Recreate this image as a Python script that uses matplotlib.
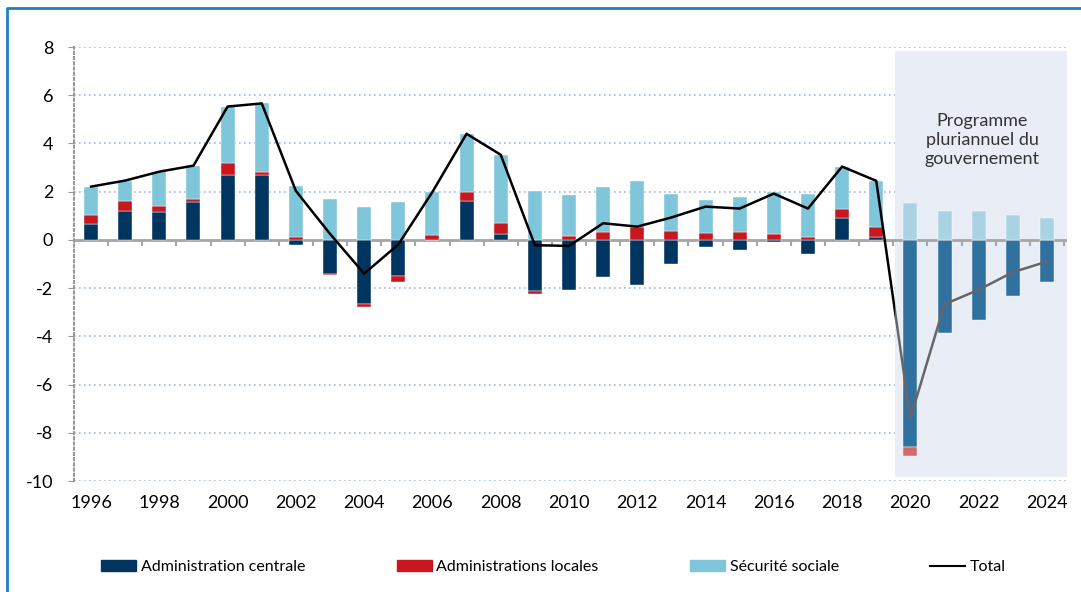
import numpy as np
import matplotlib
matplotlib.use("Agg")
import matplotlib.pyplot as plt
from matplotlib.patches import Rectangle, Patch
from matplotlib.lines import Line2D

plt.rcParams['font.family'] = ['Lato', 'DejaVu Sans']
plt.rcParams['axes.unicode_minus'] = False

years = np.arange(1996, 2025)
central = [0.65, 1.20, 1.17, 1.56, 2.70, 2.70, -0.22, -1.40, -2.67, -1.48,
           0.00, 1.62, 0.25, -2.14, -2.09, -1.54, -1.87, -1.02, -0.29, -0.44,
           -0.07, -0.59, 0.91, 0.10, -8.60, -3.87, -3.33, -2.34, -1.76]
local = [0.40, 0.43, 0.25, 0.14, 0.47, 0.13, 0.12, -0.04, -0.10, -0.27,
         0.21, 0.37, 0.44, -0.09, 0.17, 0.32, 0.55, 0.35, 0.28, 0.32,
         0.25, 0.12, 0.36, 0.44, -0.35, 0.00, 0.00, 0.00, 0.00]
social = [1.16, 0.83, 1.41, 1.38, 2.36, 2.83, 2.13, 1.70, 1.37, 1.56,
          1.78, 2.41, 2.84, 2.03, 1.68, 1.89, 1.88, 1.57, 1.38, 1.45,
          1.74, 1.80, 1.77, 1.91, 1.52, 1.19, 1.19, 1.05, 0.90]
total = [2.21, 2.46, 2.83, 3.08, 5.53, 5.66, 2.03, 0.25, -1.40, -0.19,
         1.99, 4.40, 3.53, -0.22, -0.25, 0.69, 0.55, 0.93, 1.38, 1.30,
         1.92, 1.30, 3.04, 2.45, -7.40, -2.67, -2.07, -1.34, -0.90]
first_forecast = 2020
labels = ['Administration centrale', 'Administrations locales', 'Sécurité sociale', 'Total']

hist_colors = ['#003560', '#c8171f', '#80c6da']
proj_colors = ['#3171a0', '#d46b6b', '#a9d3e3']

fig = plt.figure(figsize=(10.81, 5.92), dpi=100)
ax = fig.add_axes([74/1081, 111/592, 993.4/1081, 434/592])

forecast = years >= first_forecast
pos_base = np.zeros(len(years))
neg_base = np.zeros(len(years))
width = 0.41
for i, series in enumerate([central, local, social]):
    vals = np.array(series)
    bottoms = np.where(vals >= 0, pos_base, neg_base)
    colors = np.where(forecast, proj_colors[i], hist_colors[i])
    ax.bar(years, vals, width, bottom=bottoms, color=colors, zorder=3,
           edgecolor='white', linewidth=0.3)
    pos_base += np.where(vals >= 0, vals, 0)
    neg_base += np.where(vals < 0, vals, 0)

# shaded programme period
shade = Rectangle((first_forecast - 0.45, -9.83), 2024.6 - (first_forecast - 0.45), 17.67,
                  facecolor='#e9eef6', edgecolor='none', zorder=1)
ax.add_patch(shade)

# total line: black for history, grey inside shaded area
l1, = ax.plot(years, total, color='black', lw=1.8, zorder=4)
clip_hist = Rectangle((1990, -20), first_forecast - 0.45 - 1990, 40, transform=ax.transData)
l1.set_clip_path(clip_hist)
l2, = ax.plot(years, total, color='#666666', lw=1.8, zorder=4)
clip_proj = Rectangle((first_forecast - 0.45, -20), 10, 40, transform=ax.transData)
l2.set_clip_path(clip_proj)

ax.text(2022.1, 4.15, 'Programme\npluriannuel du\ngouvernement', ha='center', va='center',
        fontsize=13, color='#333333', linespacing=1.25, zorder=5)

# zero line with category ticks
ax.axhline(0, color='#a6a6a6', lw=2, zorder=2)
ax.vlines(np.arange(1995.5, 2025, 1), -0.27, 0, color='#a6a6a6', lw=1.5, zorder=2)

ax.set_xlim(1995.5, 2024.6)
ax.set_ylim(-10, 8)
ax.set_yticks(np.arange(-10, 9, 2))
ax.set_xticks(years[::2])
ax.tick_params(axis='x', length=0, pad=10, labelsize=13)
ax.tick_params(axis='y', length=4, color='#999999', labelsize=13, pad=11)
ax.grid(axis='y', color='#9fb6de', linestyle=(0, (1, 2)), lw=1.2, zorder=0)
ax.set_axisbelow(True)
for s in ['top', 'right', 'bottom']:
    ax.spines[s].set_visible(False)
ax.spines['left'].set_color('#999999')
ax.spines['left'].set_linestyle((0, (1, 1.5)))
ax.spines['left'].set_linewidth(1.5)

handles = [Patch(color=hist_colors[0]), Patch(color=hist_colors[1]),
           Patch(color=hist_colors[2]), Line2D([], [], color='black', lw=1.5)]
fig.legend(handles, labels, loc='center', bbox_to_anchor=(0.512, 0.042), ncol=4,
           frameon=False, fontsize=11.5, handlelength=2.2, handleheight=0.6,
           handletextpad=0.3, columnspacing=5.7)

# outer blue border
fig.add_artist(Line2D([7/1081, 7/1081, 1], [0, 1 - 8/592, 1 - 8/592],
                      transform=fig.transFigure, color='#1f7fc4', lw=2))

fig.savefig('out.png', dpi=100)
